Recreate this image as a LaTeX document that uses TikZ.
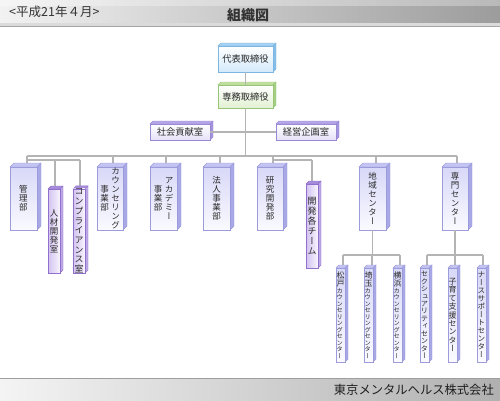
\documentclass[tikz,border=0pt]{standalone}
\usepackage{fontspec}
\setmainfont{Noto Sans CJK JP}
\newfontfamily\vjp[RawFeature=+vert]{Noto Sans CJK JP}
\ExplSyntaxOn
\NewDocumentCommand\vlist{m}{\tl_map_inline:nn{#1}{\hbox~to~1em{\hss##1\hss}}}
\ExplSyntaxOff
\newcommand\vcol[2][1.05]{\ensuremath{\vcenter{\lineskiplimit=-100pt\lineskip=0pt\baselineskip=#1em\relax\vlist{#2}}}}
\newcommand\vmix[4]{\ensuremath{\vcenter{\lineskiplimit=-100pt\lineskip=0pt
  {\fontsize{#1}{#1}\selectfont\baselineskip=1.05em\relax\vlist{#2}}%
  {\fontsize{#3}{#3}\selectfont\baselineskip=1.05em\relax\vlist{#4}}}}}
\newcommand\bx[7]{\node[#6, minimum width={(#4-#2)*1pt}, minimum height={(#5-#3)*1pt}] (#1) at ({(#2+#4)/2},{(#3+#5)/2}) {#7};}
\definecolor{lineg}{HTML}{B4B4B4}
\definecolor{txt}{HTML}{2A2A2A}
\definecolor{blueTop}{HTML}{A6D2F2}\definecolor{blueSide}{HTML}{86BEE8}
\definecolor{blueBot}{HTML}{D4EAFA}\definecolor{blueD}{HTML}{7DB5E3}
\definecolor{greenTop}{HTML}{C2E0A2}\definecolor{greenSide}{HTML}{A6CF86}
\definecolor{greenBot}{HTML}{E2F1D2}\definecolor{greenD}{HTML}{98C676}
\definecolor{lavTop}{HTML}{C4C4F2}\definecolor{lavSide}{HTML}{A8A8E6}
\definecolor{lavFT}{HTML}{D8D8F8}\definecolor{lavFB}{HTML}{FAFAFF}\definecolor{lavD}{HTML}{9C9CDC}
\definecolor{vioL}{HTML}{D2C2F0}\definecolor{vioR}{HTML}{F8F5FE}\definecolor{vioTop}{HTML}{A88CDC}
\definecolor{vioSide}{HTML}{BCA8E6}\definecolor{vioD}{HTML}{9070CC}
\definecolor{midBot}{HTML}{E6E2F8}\definecolor{midTop}{HTML}{B6A6E8}
\definecolor{midSide}{HTML}{A494DE}\definecolor{midD}{HTML}{9A8AD6}
\definecolor{hdrL}{HTML}{F2F2F2}\definecolor{hdrR}{HTML}{9C9C9C}
\definecolor{ftL}{HTML}{F4F4F4}\definecolor{ftR}{HTML}{B0B0B0}
\tikzset{
  conn/.style={draw=lineg, line width=1.8pt},
  cube/.style n args={4}{rectangle, inner sep=0pt, outer sep=0pt, draw=#3, line width=.4pt, text=txt,
    append after command={\pgfextra{
      \filldraw[fill=#1,draw=#3,line width=.4pt] (\tikzlastnode.north west) -- ++(#4,-#4) -- ([shift={(#4,-#4)}]\tikzlastnode.north east) -- (\tikzlastnode.north east) -- cycle;
      \filldraw[fill=#2,draw=#3,line width=.4pt] (\tikzlastnode.north east) -- ++(#4,-#4) -- ([shift={(#4,-#4)}]\tikzlastnode.south east) -- (\tikzlastnode.south east) -- cycle;
    }}},
  hfont/.style={font=\fontsize{9.3}{10}\selectfont},
  vfont/.style={font=\vjp\fontsize{#1}{#1}\selectfont}, vfont/.default=8.5,
  bluebox/.style={cube={blueTop}{blueSide}{blueD}{3}, top color=white, bottom color=blueBot, hfont},
  greenbox/.style={cube={greenTop}{greenSide}{greenD}{3}, top color=white, bottom color=greenBot, hfont},
  midbox/.style={cube={midTop}{midSide}{midD}{3}, top color=white, bottom color=midBot, hfont},
  lavbox/.style={cube={lavTop}{lavSide}{lavD}{#1}, top color=lavFT, bottom color=lavFB}, lavbox/.default=4,
  viobox/.style={cube={vioTop}{vioSide}{vioD}{3}, left color=vioL, right color=vioR},
}
\begin{document}
\begin{tikzpicture}[x=1pt,y=-1pt]
\useasboundingbox (0,0) rectangle (500,400);
% header band
\shade[left color=hdrL, right color=hdrR] (0,0) rectangle (500,23);
\fill[white,opacity=.3] (0,0) rectangle (500,6);
\fill[black!14] (0,23) rectangle (500,25.5);
\fill[black!35] (0,25.5) rectangle (500,26.5);
\node[anchor=west, font=\fontsize{12.5}{13}\selectfont, text=black!80, inner sep=0pt] (date) at (9,12) {<平成21年４月>};
\node[font=\fontsize{14}{15}\selectfont\bfseries, text=black!80, inner sep=0pt] (title) at (248,15) {組織図};
% footer band
\fill[black!38] (0,377.5) rectangle (500,379);
\shade[left color=ftL, right color=ftR] (0,379) rectangle (500,400);
\node[anchor=east, font=\fontsize{12.3}{13}\selectfont, text=black!88, inner sep=0pt] (company) at (494,390) {東京メンタルヘルス株式会社};

% junction coordinates
\coordinate (bt) at (245.5,156);
\coordinate (dk) at (27,156);   \coordinate (dc) at (113,156);
\coordinate (da) at (166,156);  \coordinate (dh) at (220,156);
\coordinate (dr) at (273,156);  \coordinate (dch) at (376,156);
\coordinate (ds) at (457,156);
\coordinate (sk) at (27,160);   \coordinate (sj) at (55,160);  \coordinate (sc) at (80,160);
\coordinate (sr) at (273,160);  \coordinate (st) at (312,160);
\coordinate (lc) at (372.5,255); \coordinate (lm) at (343,255); \coordinate (ly) at (400,255);
\coordinate (ls) at (455,255);  \coordinate (lx) at (427,255); \coordinate (ln) at (483,255);
\coordinate (lsa) at (372,255); \coordinate (lko) at (455,255);

% connectors (drawn first; boxes cover their ends)
\draw[conn] (dk) -- (ds);
\draw[conn] (sk) -- (sc);
\draw[conn] (sr) -- (st);
\draw[conn] (lm) -- (ly);
\draw[conn] (lx) -- (ln);

\bx{ceo}{218}{46}{273}{72}{bluebox}{代表取締役}
\bx{coo}{218}{85}{273}{108}{greenbox}{専務取締役}
\draw[conn] (ceo) -- (coo);
\draw[conn] (coo) -- (bt);
\bx{csr}{150}{124}{210}{140}{midbox}{社会貢献室}
\bx{plan}{276}{124}{336}{140}{midbox}{経営企画室}
\draw[conn] (csr) -- (plan);

\draw[conn] (dk) -- (27,167);
\draw[conn] (dc) -- (113,167);
\draw[conn] (da) -- (166,167);
\draw[conn] (dh) -- (220,167);
\draw[conn] (dr) -- (273,167);
\draw[conn] (dch) -- (376,167);
\draw[conn] (ds) -- (457,167);
\draw[conn] (sj) -- (55,189);
\draw[conn] (sc) -- (80,189);
\draw[conn] (st) -- (312,184);

\bx{kanri}{10}{167}{37}{230}{lavbox, vfont}{\vcol{管理部}}
\bx{jinzai}{48}{189}{60}{273}{viobox, vfont}{\vcol{人材開発室}}
\bx{comp}{73}{189}{85}{273}{viobox, vfont=9}{\vcol[1.08]{コンプライアンス室}}
\bx{couns}{97}{167}{123}{230}{lavbox, vfont}{\vcol{事業部}\kern2.5pt\vcol{カウンセリング}}
\bx{acad}{150}{167}{177}{230}{lavbox, vfont}{\vcol{事業部}\kern2.5pt\vcol{アカデミー}}
\bx{houjin}{203}{167}{230}{230}{lavbox, vfont}{\vcol{法人事業部}}
\bx{kenkyu}{257}{167}{283}{230}{lavbox, vfont}{\vcol{研究開発部}}
\bx{kaihatsu}{306}{184}{318}{268}{viobox, vfont=9}{\vcol[1.12]{開発各チーム}}
\bx{chiiki}{359}{167}{386}{230}{lavbox, vfont}{\vcol{地域センター}}
\bx{senmon}{442}{167}{468}{230}{lavbox, vfont}{\vcol{専門センター}}

\draw[conn] (chiiki) -- (chiiki.south |- lc);
\draw[conn] (senmon) -- (senmon.south |- ls);
\draw[conn] (lm) -- (343,268);
\draw[conn] (lsa) -- (372,268);
\draw[conn] (ly) -- (400,268);
\draw[conn] (lx) -- (427,268);
\draw[conn] (lko) -- (455,268);
\draw[conn] (ln) -- (483,268);

\bx{matsudo}{336}{268}{345}{362}{lavbox=3, vfont}{\vmix{8}{松戸}{6.2}{カウンセリングセンター}}
\bx{saitama}{364}{268}{373}{362}{lavbox=3, vfont}{\vmix{8}{埼玉}{6.2}{カウンセリングセンター}}
\bx{yokohama}{393}{268}{402}{362}{lavbox=3, vfont}{\vmix{8}{横浜}{6.2}{カウンセリングセンター}}
\bx{sexuality}{420}{268}{429}{362}{lavbox=3, vfont=7.2}{\vcol[1.04]{セクシュアリティセンター}}
\bx{kosodate}{448}{268}{457}{362}{lavbox=3, vfont=8}{\vcol{子育て支援センター}}
\bx{nurse}{477}{268}{486}{362}{lavbox=3, vfont=7.6}{\vcol{ナースサポートセンター}}
\end{tikzpicture}
\end{document}
